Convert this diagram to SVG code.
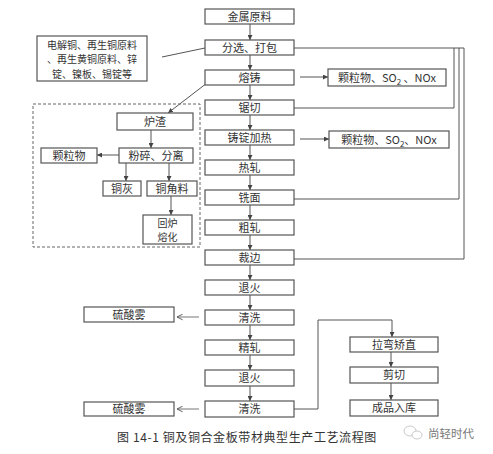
<svg xmlns="http://www.w3.org/2000/svg" width="493" height="454" viewBox="0 0 493 454">
<defs>
<marker id="ah" viewBox="0 0 10 10" refX="10" refY="5" markerWidth="5" markerHeight="5" orient="auto" markerUnits="userSpaceOnUse">
<path d="M0,0 L10,5 L0,10 z" fill="#444"/>
</marker>
<marker id="oa" viewBox="0 0 10 10" refX="9" refY="5" markerWidth="7" markerHeight="7" orient="auto" markerUnits="userSpaceOnUse">
<path d="M1,1 L9,5 L1,9" fill="none" stroke="#555" stroke-width="1.3"/>
</marker>
<style>
.b{fill:#fff;stroke:#555;stroke-width:1.2}
.t{font-family:"Noto Sans CJK SC","Noto Sans",sans-serif;font-size:11px;fill:#333;text-anchor:middle}
.s{font-size:10px}
.l{fill:none;stroke:#555;stroke-width:1}
.a{fill:none;stroke:#555;stroke-width:1;marker-end:url(#ah)}
.o{fill:none;stroke:#666;stroke-width:0.9;marker-end:url(#oa)}
</style>
</defs>
<rect width="493" height="454" fill="#fff"/>

<g id="connectors">
<line class="a" x1="250" y1="24" x2="250" y2="40"/>
<line class="a" x1="250" y1="55" x2="250" y2="70"/>
<line class="a" x1="250" y1="85" x2="250" y2="100"/>
<line class="a" x1="250" y1="115" x2="250" y2="130"/>
<line class="a" x1="250" y1="145" x2="250" y2="160"/>
<line class="a" x1="250" y1="175" x2="250" y2="190"/>
<line class="a" x1="250" y1="205" x2="250" y2="220"/>
<line class="a" x1="250" y1="235" x2="250" y2="250"/>
<line class="a" x1="250" y1="265" x2="250" y2="280"/>
<line class="a" x1="250" y1="295" x2="250" y2="310"/>
<line class="a" x1="250" y1="325" x2="250" y2="340"/>
<line class="a" x1="250" y1="355" x2="250" y2="370"/>
<line class="a" x1="250" y1="386" x2="250" y2="401"/>
<line class="l" x1="162" y1="57" x2="205" y2="48"/>
<polyline class="l" points="294,48 464,48 464,259 294,259"/>
<polyline class="l" points="294,108 454,108 454,48"/>
<polyline class="l" points="294,199 459,199 459,48"/>
<line class="a" x1="300" y1="77" x2="328" y2="77"/>
<line class="a" x1="300" y1="139" x2="329" y2="139"/>
<line class="a" x1="207" y1="83" x2="168" y2="113"/>
<line class="a" x1="151" y1="130" x2="151" y2="148"/>
<line class="a" x1="119" y1="155" x2="97" y2="155"/>
<line class="a" x1="126" y1="163" x2="126" y2="181"/>
<line class="a" x1="169" y1="163" x2="169" y2="181"/>
<line class="a" x1="171" y1="196" x2="171" y2="215"/>
<line class="o" x1="199" y1="317" x2="177" y2="317"/>
<line class="o" x1="199" y1="409" x2="177" y2="409"/>
<polyline class="a" points="294,409 318,409 318,320 392,320 392,337"/>
<line class="a" x1="391" y1="352" x2="391" y2="367"/>
<line class="a" x1="391" y1="383" x2="391" y2="400"/>
</g>

<rect x="33" y="104" width="167" height="143" fill="none" stroke="#666" stroke-width="1" stroke-dasharray="3,2"/>

<g id="n1"><rect class="b" x="205" y="9" width="89" height="15"/><text class="t" x="249.5" y="20.5">金属原料</text></g>
<g id="n2"><rect class="b" x="205" y="40" width="89" height="15"/><text class="t" x="249.5" y="51.5">分选、打包</text></g>
<g id="n3"><rect class="b" x="205" y="70" width="89" height="15"/><text class="t" x="249.5" y="81.5">熔铸</text></g>
<g id="n4"><rect class="b" x="205" y="100" width="89" height="15"/><text class="t" x="249.5" y="111.5">锯切</text></g>
<g id="n5"><rect class="b" x="205" y="130" width="89" height="15"/><text class="t" x="249.5" y="141.5">铸锭加热</text></g>
<g id="n6"><rect class="b" x="205" y="160" width="89" height="15"/><text class="t" x="249.5" y="171.5">热轧</text></g>
<g id="n7"><rect class="b" x="205" y="190" width="89" height="15"/><text class="t" x="249.5" y="201.5">铣面</text></g>
<g id="n8"><rect class="b" x="205" y="220" width="89" height="15"/><text class="t" x="249.5" y="231.5">粗轧</text></g>
<g id="n9"><rect class="b" x="205" y="250" width="89" height="15"/><text class="t" x="249.5" y="261.5">裁边</text></g>
<g id="n10"><rect class="b" x="205" y="280" width="89" height="15"/><text class="t" x="249.5" y="291.5">退火</text></g>
<g id="n11"><rect class="b" x="205" y="310" width="89" height="15"/><text class="t" x="249.5" y="321.5">清洗</text></g>
<g id="n12"><rect class="b" x="205" y="340" width="89" height="15"/><text class="t" x="249.5" y="351.5">精轧</text></g>
<g id="n13"><rect class="b" x="205" y="370" width="89" height="16"/><text class="t" x="249.5" y="382">退火</text></g>
<g id="n14"><rect class="b" x="205" y="401" width="89" height="16"/><text class="t" x="249.5" y="413">清洗</text></g>

<g id="raw"><rect class="b" x="37" y="36" width="110" height="45"/>
<text class="t s" x="92" y="48.5">电解铜、再生铜原料</text>
<text class="t s" x="92" y="63">、再生黄铜原料、锌</text>
<text class="t s" x="92" y="77.5">锭、镍板、锡锭等</text></g>

<g id="e1"><rect class="b" x="328" y="69" width="118" height="17"/><text class="t" x="387" y="81.5">颗粒物、SO<tspan font-size="8" dy="3">2</tspan><tspan dy="-3"> 、NOx</tspan></text></g>
<g id="e2"><rect class="b" x="329" y="131" width="120" height="17"/><text class="t" x="389" y="143.5">颗粒物、SO<tspan font-size="8" dy="3">2</tspan><tspan dy="-3">、NOx</tspan></text></g>

<g id="slag"><rect class="b" x="117" y="113" width="76" height="17"/><text class="t" x="155" y="125.5">炉渣</text></g>
<g id="crush"><rect class="b" x="119" y="148" width="74" height="15"/><text class="t" x="156" y="159.5">粉碎、分离</text></g>
<g id="part"><rect class="b" x="41" y="148" width="56" height="15"/><text class="t" x="69" y="159.5">颗粒物</text></g>
<g id="ash"><rect class="b" x="103" y="181" width="38" height="15"/><text class="t" x="122" y="192.5">铜灰</text></g>
<g id="scrap"><rect class="b" x="147" y="181" width="50" height="15"/><text class="t" x="172" y="192.5">铜角料</text></g>
<g id="remelt"><rect class="b" x="143" y="215" width="49" height="29"/><text class="t s" x="167.5" y="226.5">回炉</text><text class="t s" x="167.5" y="241">熔化</text></g>

<g id="acid1"><rect class="b" x="84" y="307" width="90" height="15"/><text class="t" x="129" y="318.5">硫酸雾</text></g>
<g id="acid2"><rect class="b" x="84" y="402" width="90" height="14"/><text class="t" x="129" y="413">硫酸雾</text></g>

<g id="straight"><rect class="b" x="350" y="337" width="88" height="15"/><text class="t" x="394" y="348.5">拉弯矫直</text></g>
<g id="shear"><rect class="b" x="350" y="367" width="88" height="16"/><text class="t" x="394" y="379">剪切</text></g>
<g id="store"><rect class="b" x="350" y="400" width="88" height="16"/><text class="t" x="394" y="412">成品入库</text></g>

<text x="117" y="442" font-family="'Noto Sans CJK SC','Noto Sans',sans-serif" font-size="12" fill="#333" letter-spacing="0.6">图 14-1 铜及铜合金板带材典型生产工艺流程图</text>

<g id="watermark">
<ellipse cx="410" cy="431" rx="6" ry="5" fill="none" stroke="#bbb" stroke-width="0.8"/>
<ellipse cx="417" cy="435" rx="5" ry="4" fill="#fff" stroke="#bbb" stroke-width="0.8"/>
<text x="428" y="438" font-family="'Noto Sans CJK SC',sans-serif" font-size="11.5" fill="#777">尚轻时代</text>
</g>
</svg>
